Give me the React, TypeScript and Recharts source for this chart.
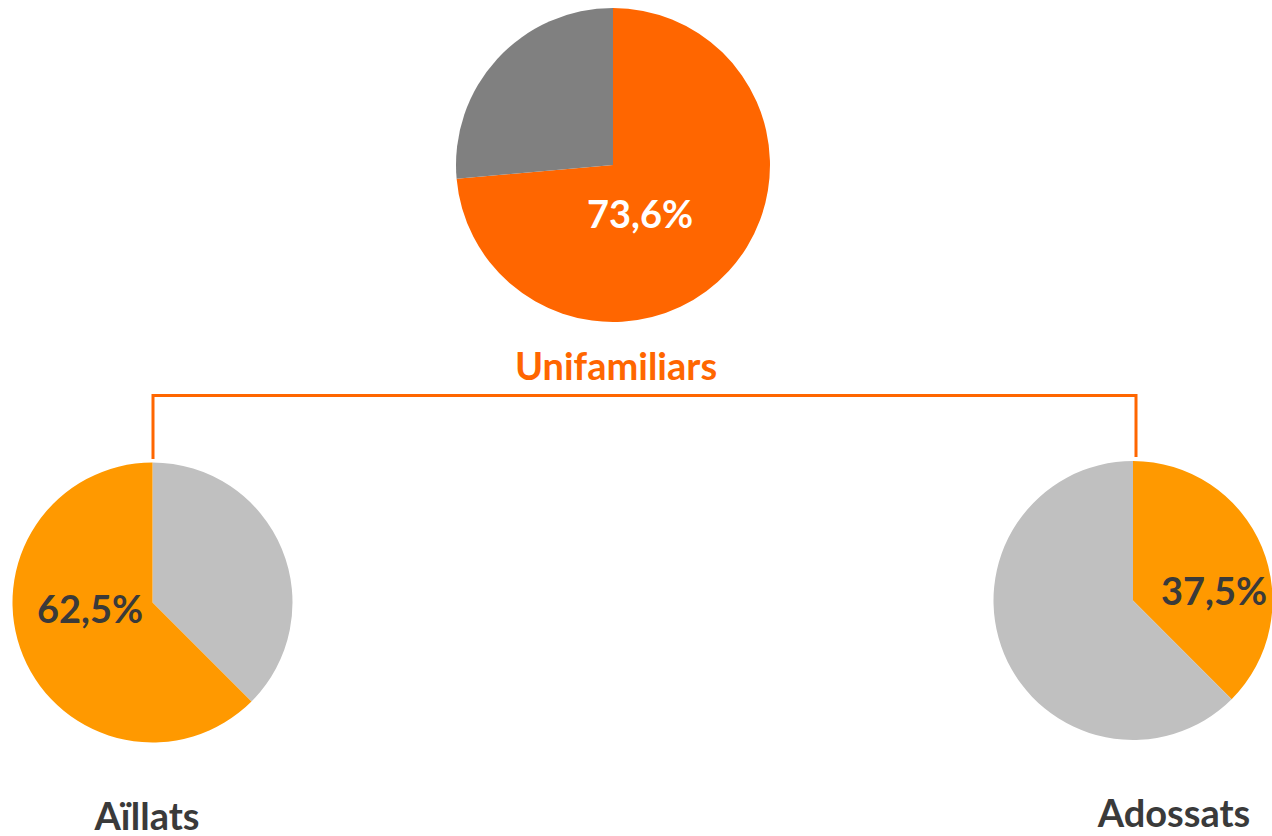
import React from "react";
import { PieChart, Pie, Cell } from "recharts";

const unifamiliarsData = [
  { name: "Unifamiliars", value: 73.6 },
  { name: "Altres", value: 26.4 },
];
const aillatsData = [
  { name: "Adossats", value: 37.5 },
  { name: "Aïllats", value: 62.5 },
];
const adossatsData = [
  { name: "Adossats", value: 37.5 },
  { name: "Aïllats", value: 62.5 },
];

const topColors = ["#FF6600", "#808080"];
const leftColors = ["#C0C0C0", "#FF9900"];
const rightColors = ["#FF9900", "#C0C0C0"];

const topLabel = "73,6%";
const leftLabel = "62,5%";
const rightLabel = "37,5%";
const titles = ["Unifamiliars", "Aïllats", "Adossats"];

const FONT = "Lato, 'Open Sans', sans-serif";

export default function App() {
  return (
    <div style={{ position: "absolute", left: 0, top: 0, width: 1272, height: 836, background: "#fff" }}>
      <PieChart width={1272} height={836} margin={{ top: 0, right: 0, bottom: 0, left: 0 }}>
        <Pie
          data={unifamiliarsData}
          dataKey="value"
          cx={613}
          cy={165}
          outerRadius={157}
          startAngle={90}
          endAngle={-270}
          stroke="none"
          isAnimationActive={false}
        >
          {unifamiliarsData.map((d, i) => (
            <Cell key={d.name} fill={topColors[i]} />
          ))}
        </Pie>
        <Pie
          data={aillatsData}
          dataKey="value"
          cx={152.5}
          cy={602.5}
          outerRadius={140}
          startAngle={90}
          endAngle={-270}
          stroke="none"
          isAnimationActive={false}
        >
          {aillatsData.map((d, i) => (
            <Cell key={d.name} fill={leftColors[i]} />
          ))}
        </Pie>
        <Pie
          data={adossatsData}
          dataKey="value"
          cx={1133}
          cy={600.5}
          outerRadius={139.5}
          startAngle={90}
          endAngle={-270}
          stroke="none"
          isAnimationActive={false}
        >
          {adossatsData.map((d, i) => (
            <Cell key={d.name} fill={rightColors[i]} />
          ))}
        </Pie>
      </PieChart>
      <svg
        width={1272}
        height={836}
        style={{ position: "absolute", left: 0, top: 0, pointerEvents: "none" }}
      >
        <polyline
          points="153,459 153,395.5 1136,395.5 1136,457"
          fill="none"
          stroke="#FF6600"
          strokeWidth={3}
        />
        <text x={640} y={228} textAnchor="middle" fill="#FFFFFF" fontFamily={FONT} fontWeight={700} fontSize={38}>
          {topLabel}
        </text>
        <text x={90} y={623} textAnchor="middle" fill="#3A3A3A" fontFamily={FONT} fontWeight={700} fontSize={38}>
          {leftLabel}
        </text>
        <text x={1214} y={605} textAnchor="middle" fill="#3A3A3A" fontFamily={FONT} fontWeight={700} fontSize={38}>
          {rightLabel}
        </text>
        <text x={616} y={380} textAnchor="middle" fill="#FF6600" fontFamily={FONT} fontWeight={700} fontSize={38}>
          {titles[0]}
        </text>
        <text x={147} y={830} textAnchor="middle" fill="#3A3A3A" fontFamily={FONT} fontWeight={700} fontSize={38}>
          {titles[1]}
        </text>
        <text x={1174} y={827} textAnchor="middle" fill="#3A3A3A" fontFamily={FONT} fontWeight={700} fontSize={38}>
          {titles[2]}
        </text>
      </svg>
    </div>
  );
}
